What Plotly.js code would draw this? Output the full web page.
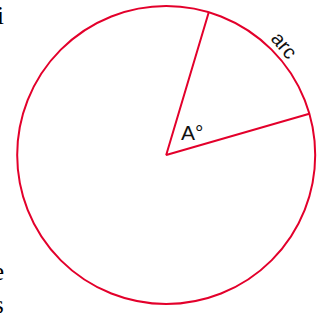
<!DOCTYPE html>
<html>
<head>
<meta charset="utf-8">
<script src="https://cdn.plot.ly/plotly-3.0.1.min.js"></script>
<style>html,body{margin:0;padding:0;background:#fff;overflow:hidden}#chart{width:325px;height:313px}</style>
</head>
<body>
<div id="chart"></div>
<script>
// Data
var armAngles = [73.4, 16.1];   // degrees, the two radii bounding the arc
var radius = [1];               // unit circle
var labels = ["A°", "arc"];
var sideText = ["i", "e", "s"];

var red = "#e3002b";
var R = radius[0];
var rad = function(d){ return d * Math.PI / 180; };

var armX = [R * Math.cos(rad(armAngles[0])), 0, R * Math.cos(rad(armAngles[1]))];
var armY = [R * Math.sin(rad(armAngles[0])), 0, R * Math.sin(rad(armAngles[1]))];

var traces = [{
  type: "scatter", mode: "lines", x: armX, y: armY,
  line: {color: red, width: 2}, hoverinfo: "skip", showlegend: false
}];

var layout = {
  width: 325, height: 313,
  margin: {l: 0, r: 0, t: 0, b: 0},
  paper_bgcolor: "#fff", plot_bgcolor: "#fff",
  showlegend: false,
  xaxis: {range: [-1.1154, 1.0658], visible: false, fixedrange: true},
  yaxis: {range: [-1.0604, 1.0403], visible: false, fixedrange: true},
  shapes: [{
    type: "circle", xref: "x", yref: "y",
    x0: -R, x1: R, y0: -R, y1: R,
    line: {color: red, width: 2}
  }],
  annotations: [
    {x: 0.173, y: 0.148, text: labels[0], showarrow: false,
     font: {family: "Liberation Sans, Arial, sans-serif", size: 21, color: "#111"}},
    {x: 0.79, y: 0.735, text: labels[1], showarrow: false, textangle: 50,
     font: {family: "Liberation Sans, Arial, sans-serif", size: 20, color: "#111"}},
    {x: -1.072, y: 0.935, text: sideText[0], showarrow: false, xanchor: "right",
     font: {family: "Liberation Serif, serif", size: 25, color: "#000"}},
    {x: -1.072, y: -0.78, text: sideText[1], showarrow: false, xanchor: "right",
     font: {family: "Liberation Serif, serif", size: 25, color: "#000"}},
    {x: -1.072, y: -1.005, text: sideText[2], showarrow: false, xanchor: "right",
     font: {family: "Liberation Serif, serif", size: 25, color: "#000"}}
  ]
};

Plotly.newPlot("chart", traces, layout, {staticPlot: true, displayModeBar: false});
</script>
</body>
</html>
